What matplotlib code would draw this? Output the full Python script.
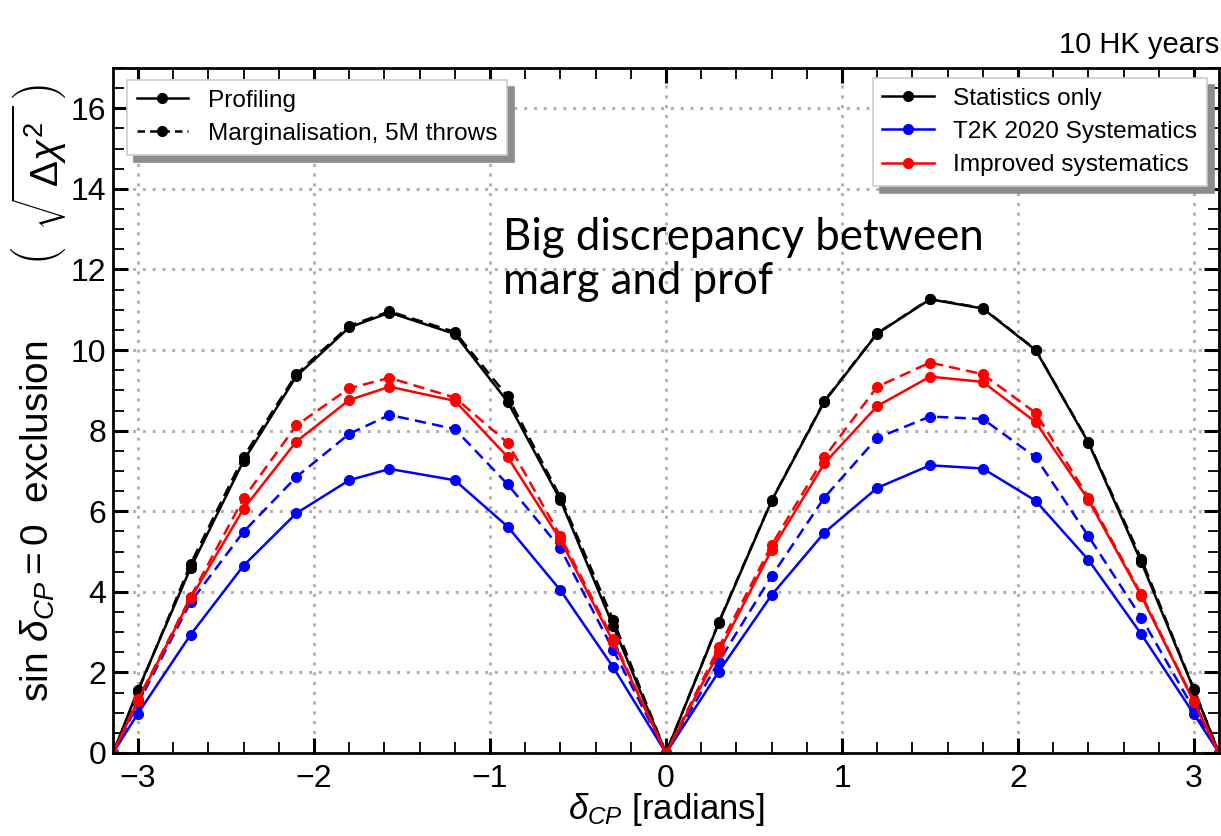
import numpy as np
import matplotlib
matplotlib.use('Agg')
import matplotlib.pyplot as plt
from matplotlib.ticker import MultipleLocator

# delta_CP sampling points (radians)
delta_cp = [-3.1416, -3.0, -2.7, -2.4, -2.1, -1.8, -1.5708, -1.2, -0.9, -0.6, -0.3, 0.0,
            0.3, 0.6, 0.9, 1.2, 1.5, 1.8, 2.1, 2.4, 2.7, 3.0, 3.1416]

# sqrt(delta chi2) for sin(delta_CP)=0 exclusion
stat_prof = [0, 1.56, 4.60, 7.25, 9.35, 10.56, 10.93, 10.40, 8.72, 6.28, 3.15, 0,
             3.23, 6.26, 8.72, 10.41, 11.26, 11.03, 10.00, 7.70, 4.74, 1.56, 0]
stat_marg = [0, 1.52, 4.70, 7.35, 9.40, 10.60, 10.96, 10.45, 8.85, 6.35, 3.30, 0,
             3.25, 6.27, 8.74, 10.42, 11.27, 11.04, 10.01, 7.72, 4.82, 1.58, 0]
t2k_prof = [0, 0.98, 2.94, 4.65, 5.95, 6.77, 7.05, 6.77, 5.62, 4.04, 2.13, 0,
            2.02, 3.92, 5.47, 6.58, 7.14, 7.06, 6.26, 4.79, 2.95, 0.96, 0]
t2k_marg = [0, 1.22, 3.75, 5.49, 6.85, 7.92, 8.39, 8.04, 6.67, 5.08, 2.56, 0,
            2.27, 4.39, 6.34, 7.82, 8.35, 8.29, 7.34, 5.38, 3.36, 1.08, 0]
impr_prof = [0, 1.30, 3.84, 6.06, 7.73, 8.76, 9.09, 8.74, 7.35, 5.29, 2.76, 0,
             2.50, 5.04, 7.19, 8.61, 9.34, 9.21, 8.21, 6.28, 3.90, 1.26, 0]
impr_marg = [0, 1.33, 3.88, 6.32, 8.13, 9.05, 9.31, 8.82, 7.70, 5.38, 2.82, 0,
             2.62, 5.16, 7.34, 9.09, 9.69, 9.40, 8.44, 6.34, 3.94, 1.28, 0]

x_ticks = [-3, -2, -1, 0, 1, 2, 3]
x_ticklabels = ['\u22123', '\u22122', '\u22121', '0', '1', '2', '3']
y_ticks = [0, 2, 4, 6, 8, 10, 12, 14, 16]

plt.rcParams['font.family'] = ['Liberation Sans', 'DejaVu Sans']
plt.rcParams['mathtext.fontset'] = 'custom'
plt.rcParams['mathtext.rm'] = 'Liberation Sans'
plt.rcParams['mathtext.it'] = 'Liberation Sans:italic'
plt.rcParams['mathtext.bf'] = 'Liberation Sans:bold'

W, H = 1221, 836
fig = plt.figure(figsize=(W / 100, H / 100), dpi=100)
ax = fig.add_axes([113 / W, 1 - 753 / H, 1106 / W, 685 / H])

lw = 1.8
ms = 7
series = [(stat_prof, stat_marg, 'black'),
          (t2k_prof, t2k_marg, '#0000ff'),
          (impr_prof, impr_marg, '#ff0000')]
for prof, marg, col in series:
    ax.plot(delta_cp, marg, '--', color=col, lw=lw, marker='o', ms=ms, dashes=(4.5, 2.5))
    ax.plot(delta_cp, prof, '-', color=col, lw=lw, marker='o', ms=ms)

ax.set_xlim(-np.pi, np.pi)
ax.set_ylim(0, 17)
ax.set_xticks(x_ticks)
ax.set_yticks(y_ticks)
ax.set_xticklabels(x_ticklabels)
ax.xaxis.set_minor_locator(MultipleLocator(0.2))
ax.yaxis.set_minor_locator(MultipleLocator(0.5))
ax.tick_params(which='both', direction='in', top=True, right=True, labelsize=23, colors='black')
ax.tick_params(which='major', length=11, width=2.2)
ax.tick_params(which='minor', length=8, width=1.3)
ax.tick_params(axis='x', which='major', pad=8)
ax.tick_params(axis='y', which='major', pad=5)
for s in ax.spines.values():
    s.set_linewidth(2)
ax.grid(True, which='major', color='0.7', linestyle=(0, (1, 2.2)), lw=2.2)
ax.set_axisbelow(True)

ax.set_xlabel(r'$\delta_{CP}$ [radians]', fontsize=25, labelpad=-2)

# y label in two pieces so the bracketed part can be spread out like the original
fig.text(38 / W, 1 - 702 / H, r'$\sin\,\delta_{CP} = 0$  exclusion', rotation=90,
         ha='center', va='bottom', fontsize=28)
fig.text(39 / W, 1 - 84 / H, r'$\left(\;\;\sqrt{\;\Delta\chi^{2}\;}\;\right)$', rotation=90,
         ha='center', va='top', fontsize=28)

ax.text(1.0, 1.022, '10 HK years', transform=ax.transAxes, ha='right', va='baseline', fontsize=21)

ax.text(-0.925, 13.3, 'Big discrepancy between\nmarg and prof', fontsize=31.5,
        family=['Lato', 'DejaVu Sans'], va='top', ha='left', linespacing=1.08)

shadow = {'color': '0.55', 'alpha': 1.0, 'ox': 5, 'oy': -5}
leg_kw = dict(borderaxespad=0, fontsize=17.6, numpoints=1, handlelength=2.1,
              handletextpad=0.8, fancybox=False, shadow=shadow, framealpha=1,
              edgecolor='0.8', borderpad=0.4, labelspacing=0.45)

h1 = ax.plot([], [], '-', color='black', lw=lw, marker='o', ms=ms)[0]
h2 = ax.plot([], [], '--', color='black', lw=lw, marker='o', ms=ms, dashes=(3, 2))[0]
leg1 = ax.legend([h1, h2], ['Profiling', 'Marginalisation, 5M throws'],
                 loc='upper left', bbox_to_anchor=(14 / 1106, 1 - 12 / 685), **leg_kw)
leg1.get_frame().set_linewidth(1.2)
ax.add_artist(leg1)

h3 = ax.plot([], [], '-', color='black', lw=lw, marker='o', ms=ms)[0]
h4 = ax.plot([], [], '-', color='#0000ff', lw=lw, marker='o', ms=ms)[0]
h5 = ax.plot([], [], '-', color='#ff0000', lw=lw, marker='o', ms=ms)[0]
leg2 = ax.legend([h3, h4, h5], ['Statistics only', 'T2K 2020 Systematics', 'Improved systematics'],
                 loc='upper right', bbox_to_anchor=(1 - 12 / 1106, 1 - 10 / 685), **leg_kw)
leg2.get_frame().set_linewidth(1.2)

fig.savefig('out.png', dpi=100)
